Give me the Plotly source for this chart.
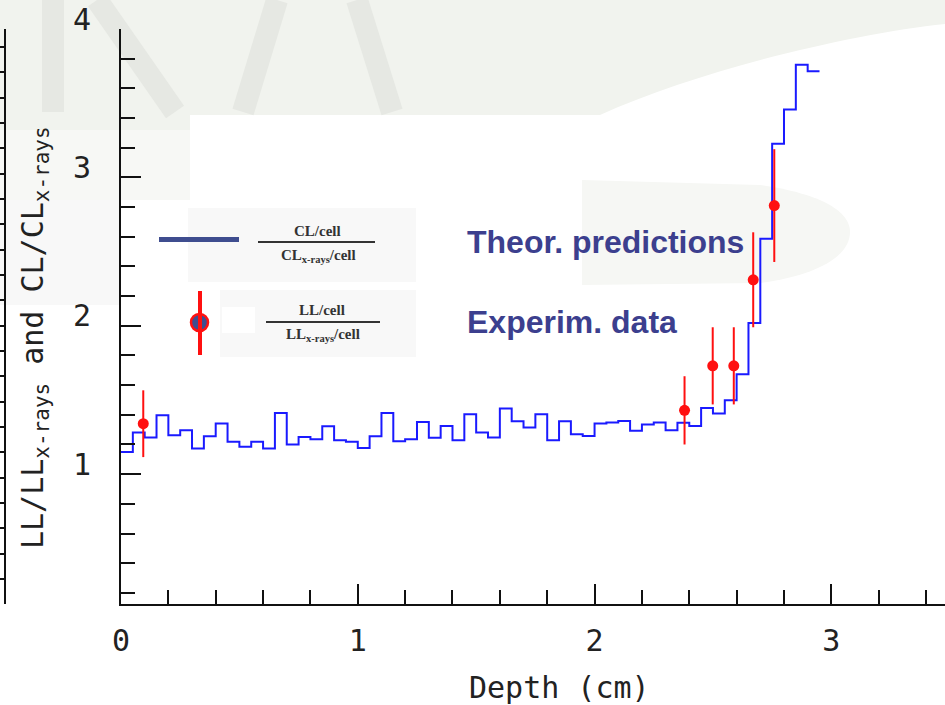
import plotly.graph_objects as go

# ---------------- data ----------------
depth_edges = [0.00, 0.05, 0.10, 0.15, 0.20, 0.25, 0.30, 0.35, 0.40, 0.45,
               0.50, 0.55, 0.60, 0.65, 0.70, 0.75, 0.80, 0.85, 0.90, 0.95,
               1.00, 1.05, 1.10, 1.15, 1.20, 1.25, 1.30, 1.35, 1.40, 1.45,
               1.50, 1.55, 1.60, 1.65, 1.70, 1.75, 1.80, 1.85, 1.90, 1.95,
               2.00, 2.05, 2.10, 2.15, 2.20, 2.25, 2.30, 2.35, 2.40, 2.45,
               2.50, 2.55, 2.60, 2.65, 2.70, 2.75, 2.80, 2.85, 2.90, 2.95]
theory_ratio = [1.150, 1.281, 1.247, 1.397, 1.263, 1.296, 1.173, 1.256, 1.341, 1.218,
                1.184, 1.218, 1.173, 1.413, 1.200, 1.251, 1.236, 1.323, 1.229, 1.218,
                1.177, 1.256, 1.413, 1.222, 1.236, 1.352, 1.245, 1.325, 1.229, 1.404,
                1.281, 1.247, 1.442, 1.357, 1.314, 1.404, 1.229, 1.357, 1.269, 1.258,
                1.341, 1.348, 1.359, 1.292, 1.335, 1.348, 1.296, 1.346, 1.325, 1.446,
                1.408, 1.498, 1.673, 2.019, 2.587, 3.227, 3.458, 3.759, 3.716]
exp_depth = [0.094, 2.380, 2.499, 2.588, 2.670, 2.759]
exp_ratio = [1.34, 1.43, 1.73, 1.73, 2.31, 2.81]
exp_err = [0.225, 0.23, 0.26, 0.26, 0.32, 0.38]

x_ticks = [0, 1, 2, 3]
y_ticks = [1, 2, 3, 4]

W, H = 945, 705
def px(x):
    return x / W
def py(y):
    return 1 - y / H

AXIS_FONT = dict(family="DejaVu Sans Mono", size=30, color="#222")
NAVY = "#3c3f8e"

fig = go.Figure()

fig.add_trace(go.Scatter(
    x=depth_edges, y=theory_ratio + [theory_ratio[-1]],
    mode="lines", line=dict(shape="hv", color="#1a1aff", width=2),
    showlegend=False, hoverinfo="skip"))

fig.add_trace(go.Scatter(
    x=exp_depth, y=exp_ratio, mode="markers",
    marker=dict(color="#ff1010", size=11),
    error_y=dict(type="data", array=exp_err, color="#ff1010", thickness=2, width=0),
    showlegend=False, hoverinfo="skip"))

# dummy trace for the partial background axis on far left
fig.add_trace(go.Scatter(x=[], y=[], yaxis="y3", showlegend=False))

shapes = []
# --- background decorations (pale band, letters, swoosh) ---
shapes.append(dict(type="path", xref="paper", yref="paper", layer="below",
                   path=f"M {px(0)} {py(0)} L {px(945)} {py(0)} L {px(945)} {py(24)} "
                        f"C {px(850)} {py(34)}, {px(700)} {py(70)}, {px(600)} {py(115)} "
                        f"L {px(190)} {py(115)} L {px(190)} {py(130)} L {px(0)} {py(130)} Z",
                   fillcolor="#f1f3ee", line=dict(width=0)))
shapes.append(dict(type="rect", xref="paper", yref="paper", layer="below",
                   x0=px(0), x1=px(190), y0=py(200), y1=py(130),
                   fillcolor="#f7f8f5", line=dict(width=0)))
shapes.append(dict(type="rect", xref="paper", yref="paper", layer="below",
                   x0=px(0), x1=px(120), y0=py(305), y1=py(200),
                   fillcolor="#f8f8f8", line=dict(width=0)))
shapes.append(dict(type="path", xref="paper", yref="paper", layer="below",
                   path=f"M {px(582)} {py(180)} L {px(760)} {py(185)} "
                        f"C {px(830)} {py(195)}, {px(850)} {py(215)}, {px(850)} {py(232)} "
                        f"C {px(850)} {py(255)}, {px(820)} {py(275)}, {px(760)} {py(283)} "
                        f"L {px(582)} {py(285)} Z",
                   fillcolor="#f6f7f4", line=dict(width=0)))
for (xa, ya, xb, yb) in [(53, 0, 53, 112), (97, 0, 175, 112),
                         (277, 0, 243, 112), (357, 0, 392, 112)]:
    shapes.append(dict(type="line", xref="paper", yref="paper", layer="below",
                       x0=px(xa), y0=py(ya), x1=px(xb), y1=py(yb),
                       line=dict(color="#e6e8e3", width=22)))
# faint legend boxes
shapes.append(dict(type="rect", xref="paper", yref="paper", layer="below",
                   x0=px(188), x1=px(416), y0=py(282), y1=py(208),
                   fillcolor="#f8f8f8", line=dict(width=0)))
shapes.append(dict(type="rect", xref="paper", yref="paper", layer="below",
                   x0=px(220), x1=px(416), y0=py(357), y1=py(290),
                   fillcolor="#f8f8f8", line=dict(width=0)))
shapes.append(dict(type="rect", xref="paper", yref="paper", layer="below",
                   x0=px(222), x1=px(255), y0=py(333), y1=py(307),
                   fillcolor="#ffffff", line=dict(width=0)))

# --- legend glyphs ---
shapes.append(dict(type="line", xref="paper", yref="paper",
                   x0=px(159), x1=px(239), y0=py(239.5), y1=py(239.5),
                   line=dict(color="#3f4d8f", width=5)))
shapes.append(dict(type="circle", xref="paper", yref="paper",
                   x0=px(191), x1=px(208), y0=py(331), y1=py(314),
                   fillcolor="#3f4d8f", line=dict(color="#ff1010", width=2.5)))
shapes.append(dict(type="line", xref="paper", yref="paper",
                   x0=px(200), x1=px(200), y0=py(291), y1=py(355),
                   line=dict(color="#ff1010", width=4)))
# fraction bars
shapes.append(dict(type="line", xref="paper", yref="paper",
                   x0=px(258), x1=px(375), y0=py(242), y1=py(242),
                   line=dict(color="#333", width=2)))
shapes.append(dict(type="line", xref="paper", yref="paper",
                   x0=px(266), x1=px(380), y0=py(322), y1=py(322),
                   line=dict(color="#333", width=2)))

FR_FONT = dict(family="Liberation Serif", size=15, color="#333")
def ann(text, x, y, font, xanchor="center", **kw):
    d = dict(text=text, x=px(x), y=py(y), xref="paper", yref="paper",
             xanchor=xanchor, yanchor="middle", showarrow=False, font=font)
    d.update(kw)
    return d

annotations = [
    ann("<b>CL/cell</b>", 317, 231, FR_FONT),
    ann("<b>CL<sub>x-rays</sub>/cell</b>", 318, 256, FR_FONT),
    ann("<b>LL/cell</b>", 322, 310, FR_FONT),
    ann("<b>LL<sub>x-rays</sub>/cell</b>", 323, 335, FR_FONT),
    ann("<b>Theor. predictions</b>", 465, 242,
        dict(family="Liberation Sans", size=32, color=NAVY), xanchor="left"),
    ann("<b>Experim. data</b>", 465, 322,
        dict(family="Liberation Sans", size=32, color=NAVY), xanchor="left"),
    ann("Depth (cm)", 559, 687, AXIS_FONT),
    ann("LL/LL<sub>x-rays</sub> and CL/CL<sub>x-rays</sub>", 34, 338, AXIS_FONT, textangle=-90),
]

TK = "#111"
fig.update_layout(
    width=W, height=H, autosize=False,
    margin=dict(l=0, r=0, t=0, b=0),
    paper_bgcolor="white", plot_bgcolor="rgba(0,0,0,0)",
    shapes=shapes, annotations=annotations,
    xaxis=dict(domain=[px(121), 1], range=[0, 3.48], anchor="y",
               tickvals=x_ticks, ticktext=[str(v) for v in x_ticks],
               ticks="inside", ticklen=20, tickwidth=2, tickcolor=TK,
               minor=dict(ticks="inside", ticklen=14, tickwidth=2, tickcolor=TK, dtick=0.2, tick0=0, showgrid=False),
               showline=True, linecolor=TK, linewidth=2, showgrid=False, zeroline=False,
               tickfont=AXIS_FONT, ticklabelstandoff=9, automargin=False),
    xaxis2=dict(overlaying="x", side="top", anchor="y", range=[0, 3.48],
                tickvals=x_ticks, showticklabels=False,
                ticks="inside", ticklen=20, tickwidth=2, tickcolor=TK,
                minor=dict(ticks="inside", ticklen=13, tickwidth=2, tickcolor=TK, dtick=0.2, tick0=0, showgrid=False),
                showline=True, linecolor=TK, linewidth=2, showgrid=False, zeroline=False, automargin=False),
    yaxis=dict(domain=[py(604), py(29)], range=[0.125, 4.0], anchor="x",
               tickvals=y_ticks, ticktext=[str(v) for v in y_ticks],
               ticks="inside", ticklen=20, tickwidth=2, tickcolor=TK,
               minor=dict(ticks="inside", ticklen=14, tickwidth=2, tickcolor=TK, dtick=0.2, tick0=0, showgrid=False),
               showline=True, linecolor=TK, linewidth=2, showgrid=False, zeroline=False,
               tickfont=AXIS_FONT, ticklabelstandoff=22, ticklabelshift=-10, automargin=False),
    yaxis2=dict(overlaying="y", side="right", anchor="x", range=[0.125, 4.0],
                tickvals=y_ticks, showticklabels=False,
                ticks="inside", ticklen=15, tickwidth=2, tickcolor=TK,
                minor=dict(ticks="inside", ticklen=9, tickwidth=2, tickcolor=TK, dtick=0.2, tick0=0, showgrid=False),
                showline=False, showgrid=False, zeroline=False, automargin=False),
    yaxis3=dict(overlaying="y", anchor="free", position=px(5), side="left",
                range=[0, 22.7], tick0=0.988, dtick=1, showticklabels=False,
                ticks="outside", ticklen=5, tickwidth=1.5, tickcolor=TK,
                showline=True, linecolor=TK, linewidth=1.5, showgrid=False, zeroline=False,
                automargin=False),
    showlegend=False,
)

fig.write_html("out.html")
